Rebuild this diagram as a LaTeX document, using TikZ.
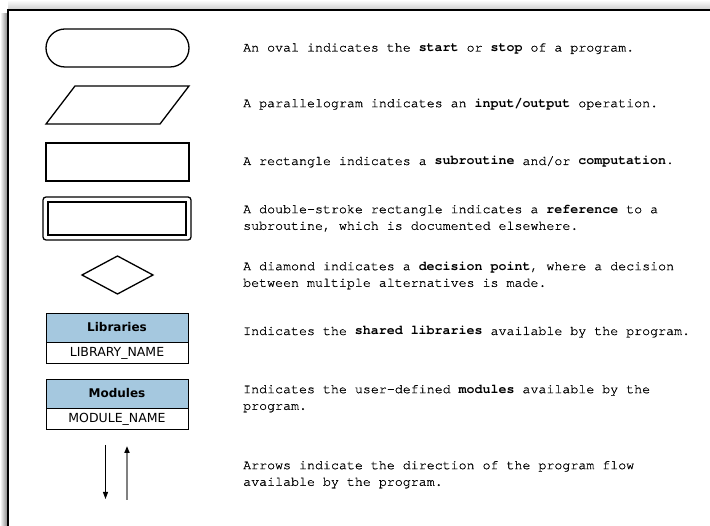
\documentclass[tikz,border=0pt]{standalone}
\usepackage{fontspec}
\setmainfont{TeX Gyre Cursor}[Ligatures={NoCommon},UprightFeatures={FakeBold=0.7}]
\newfontfamily\boxfont{DejaVu Sans}
\usetikzlibrary{arrows.meta}

\definecolor{hdrblue}{HTML}{A5C8DF}

\tikzset{
  shape line/.style={draw=black, line width=1.3pt},
  desc/.style={anchor=base west, inner sep=0pt, align=left,
    font=\fontsize{13.3}{16.6}\selectfont},
  boxhead/.style={draw=black, line width=0.9pt, fill=hdrblue, minimum width=142pt,
    minimum height=29pt, inner sep=0pt, font=\boxfont\bfseries\fontsize{12}{14}\selectfont},
  boxbody/.style={draw=black, line width=0.9pt, fill=white, minimum width=142pt,
    minimum height=21pt, inner sep=0pt, font=\boxfont\fontsize{12.5}{14}\selectfont},
  flow/.style={-{Triangle[length=7pt,width=5pt,color=black]}}
}

\begin{document}
\begin{tikzpicture}[x=1pt,y=-1pt]
  \useasboundingbox (0,0) rectangle (710,526);

  % frame shadow and border
  \shade[left color=white, right color=black!45] (0,14) rectangle (7,526);
  \shade[top color=white, bottom color=black!18] (8,0) rectangle (710,9);
  \fill[white] (8,10) rectangle (715,531);
  \draw[line width=2pt] (8,531) -- (8,10) -- (715,10);

  % oval: start / stop
  \node[shape line, rectangle, rounded corners=19pt, minimum width=143pt,
        minimum height=38pt] (oval) at (117.5,48) {};

  % parallelogram: input / output
  \draw[shape line, line join=miter] (46,124) -- (75,86) -- (189,86) -- (160,124) -- cycle;

  % rectangle: subroutine
  \node[shape line, rectangle, minimum width=143pt, minimum height=38pt] (rect) at (117.5,162) {};

  % double-stroke rectangle: reference
  \node[shape line, rectangle, rounded corners=3pt, minimum width=148pt,
        minimum height=43pt] (refout) at (117,218.5) {};
  \node[shape line, rectangle, minimum width=138pt, minimum height=33pt] (refin) at (117,218.5) {};

  % diamond: decision
  \draw[shape line, line join=miter] (82,275) -- (117.5,256) -- (153,275) -- (117.5,294) -- cycle;

  % libraries box
  \node[boxhead] (libhead) at (117,327.5) {Libraries};
  \node[boxbody, anchor=north] (libbody) at (libhead.south) {LIBRARY\_NAME};

  % modules box
  \node[boxhead] (modhead) at (117,393.5) {Modules};
  \node[boxbody, anchor=north] (modbody) at (modhead.south) {MODULE\_NAME};

  % flow arrows
  \coordinate (downtop) at (105.5,445);
  \coordinate (downend) at (105.5,499);
  \coordinate (upstart) at (127,500);
  \coordinate (upend) at (127,446);
  \draw[flow, line width=1pt] (downtop) -- (downend);
  \draw[flow, line width=1.6pt, draw=black!50] (upstart) -- (upend);

  % descriptions
  \node[desc] (t1) at (243,51.5) {An oval indicates the \textbf{start} or \textbf{stop} of a program.};
  \node[desc] (t2) at (243,107.2) {A parallelogram indicates an \textbf{input/output} operation.};
  \node[desc] (t3) at (243,165) {A rectangle indicates a \textbf{subroutine} and/or \textbf{computation.}};
  \node[desc] (t4) at (243,229.8) {A double-stroke rectangle indicates a \textbf{reference} to a\\subroutine, which is documented elsewhere.};
  \node[desc] (t5) at (243,286.8) {A diamond indicates a \textbf{decision point}, where a decision\\between multiple alternatives is made.};
  \node[desc] (t6) at (243,335) {Indicates the \textbf{shared libraries} available by the program.};
  \node[desc] (t7) at (243,409.8) {Indicates the user-defined \textbf{modules} available by the\\program.};
  \node[desc] (t8) at (243,485.8) {Arrows indicate the direction of the program flow\\available by the program.};
\end{tikzpicture}
\end{document}
